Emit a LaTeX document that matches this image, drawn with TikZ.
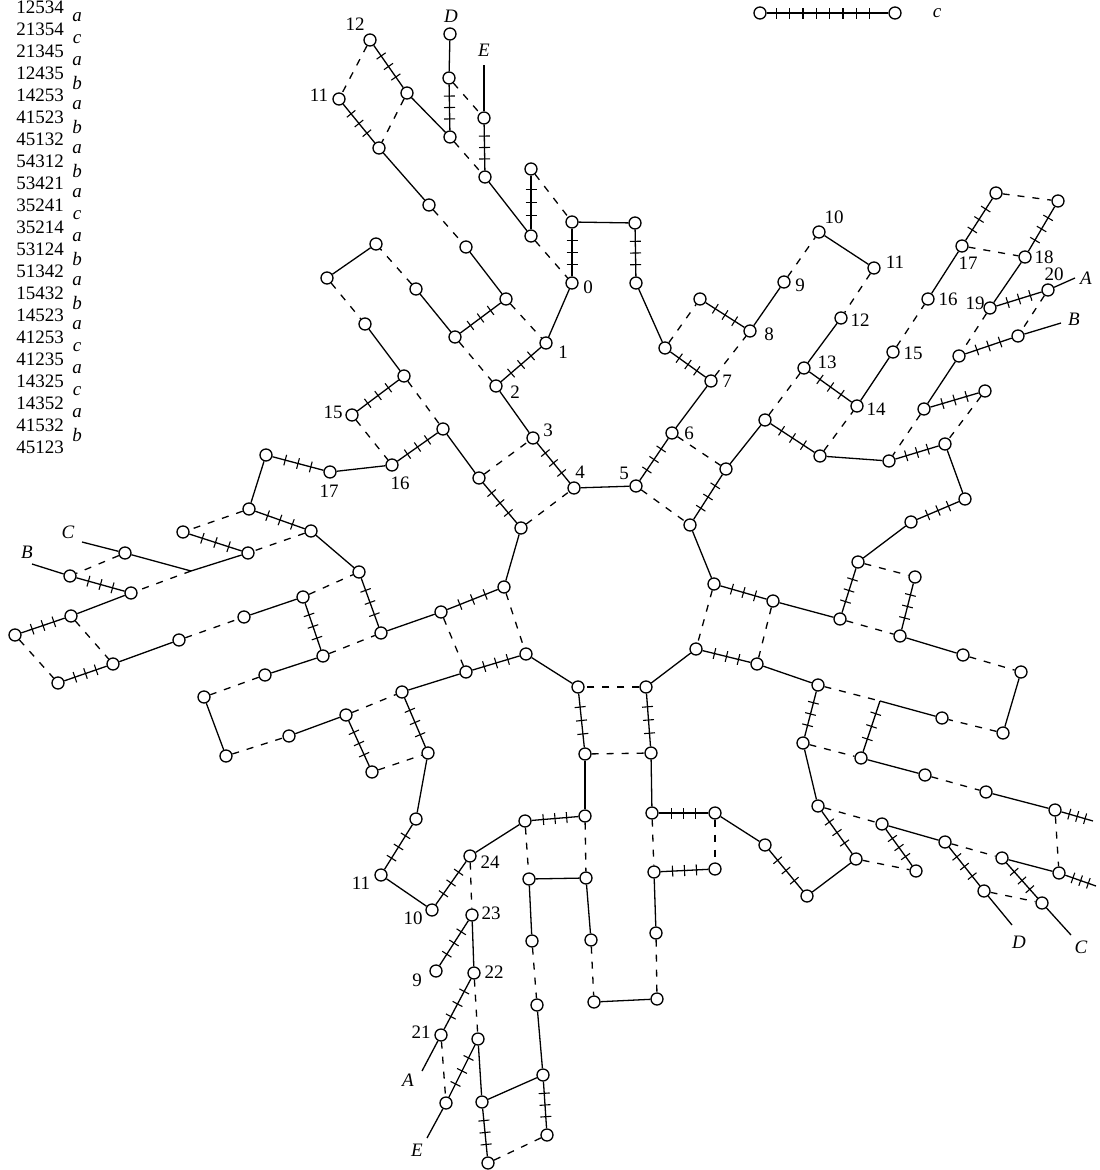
\documentclass[tikz,border=0pt]{standalone}
\usepackage{fontspec}
\setmainfont{Liberation Serif}
\usetikzlibrary{decorations.markings}
\tikzstyle{vert} = [draw, fill=white, circle, inner sep=0pt, minimum size=12pt, line width=1.3pt]
\tikzstyle{num} = [inner sep=0pt, font=\fontsize{19}{21}\selectfont]
\tikzstyle{letter} = [inner sep=0pt, font=\fontsize{19}{21}\selectfont\itshape]
\tikzstyle{solidedge} = [line width=1.3pt]
\tikzstyle{dashedge} = [line width=1.3pt, dash pattern=on 7pt off 8pt]
\tikzstyle{tickedge} = [line width=1.3pt, decoration={markings, mark=between positions 0.25 and 0.76 step 0.25 with {\draw [solid, line width=1.1pt] (0pt,-5.5pt) -- (0pt,5.5pt);}}, postaction={decorate}]
\tikzstyle{keyedge} = [line width=1.3pt, decoration={markings, mark=between positions 0.08 and 0.95 step 0.1095 with {\draw [solid, line width=1.1pt] (0pt,-5.5pt) -- (0pt,5.5pt);}}, postaction={decorate}]

\begin{document}
\begin{tikzpicture}[x=1pt, y=-1pt]
    \useasboundingbox (0,0) rectangle (1100,1170);

    % Word list
    \node [num, anchor=east] (w1) at (64,7) {12534};
    \node [num, anchor=east] (w2) at (64,29) {21354};
    \node [num, anchor=east] (w3) at (64,51) {21345};
    \node [num, anchor=east] (w4) at (64,73) {12435};
    \node [num, anchor=east] (w5) at (64,95) {14253};
    \node [num, anchor=east] (w6) at (64,117) {41523};
    \node [num, anchor=east] (w7) at (64,139) {45132};
    \node [num, anchor=east] (w8) at (64,161) {54312};
    \node [num, anchor=east] (w9) at (64,183) {53421};
    \node [num, anchor=east] (w10) at (64,205) {35241};
    \node [num, anchor=east] (w11) at (64,227) {35214};
    \node [num, anchor=east] (w12) at (64,249) {53124};
    \node [num, anchor=east] (w13) at (64,271) {51342};
    \node [num, anchor=east] (w14) at (64,293) {15432};
    \node [num, anchor=east] (w15) at (64,315) {14523};
    \node [num, anchor=east] (w16) at (64,337) {41253};
    \node [num, anchor=east] (w17) at (64,359) {41235};
    \node [num, anchor=east] (w18) at (64,381) {14325};
    \node [num, anchor=east] (w19) at (64,403) {14352};
    \node [num, anchor=east] (w20) at (64,425) {41532};
    \node [num, anchor=east] (w21) at (64,447) {45123};
    \node [letter] (s1) at (77,17) {a};
    \node [letter] (s2) at (77,39) {c};
    \node [letter] (s3) at (77,61) {a};
    \node [letter] (s4) at (77,83) {b};
    \node [letter] (s5) at (77,105) {a};
    \node [letter] (s6) at (77,127) {b};
    \node [letter] (s7) at (77,149) {a};
    \node [letter] (s8) at (77,171) {b};
    \node [letter] (s9) at (77,193) {a};
    \node [letter] (s10) at (77,215) {c};
    \node [letter] (s11) at (77,237) {a};
    \node [letter] (s12) at (77,259) {b};
    \node [letter] (s13) at (77,281) {a};
    \node [letter] (s14) at (77,303) {b};
    \node [letter] (s15) at (77,325) {a};
    \node [letter] (s16) at (77,347) {c};
    \node [letter] (s17) at (77,369) {a};
    \node [letter] (s18) at (77,391) {c};
    \node [letter] (s19) at (77,413) {a};
    \node [letter] (s20) at (77,435) {b};

    % Key
    \node [vert] (key1) at (760,13) {};
    \node [vert] (key2) at (895,13) {};
    \node [letter] (keyc) at (937,13) {c};

    % Upper left arm
    \node [vert] (a1) at (370,40) {};
    \node [vert] (a2) at (339,99) {};
    \node [vert] (a3) at (450,34) {};
    \node [vert] (a4) at (449,78) {};
    \node [vert] (a5) at (484,118) {};
    \node [vert] (a6) at (407,93) {};
    \node [vert] (a7) at (450,137) {};
    \node [vert] (a8) at (379,148) {};
    \node [vert] (a9) at (485,177) {};
    \node [vert] (a10) at (531,169) {};
    \node [vert] (a11) at (531,236) {};
    \node [vert] (a12) at (429,205) {};
    \node [vert] (a13) at (466,247) {};
    \node [vert] (a14) at (376,244) {};
    \node [vert] (a15) at (327,278) {};
    \node [vert] (a16) at (416,289) {};
    \node [vert] (a17) at (506,299) {};
    \node [vert] (a18) at (455,337) {};
    \node [vert] (a19) at (546,343) {};
    \node [vert] (a20) at (496,386) {};
    \node [vert] (a21) at (365,324) {};
    \node [vert] (a22) at (404,376) {};
    \node [vert] (a23) at (352,415) {};
    \node [vert] (a24) at (443,429) {};
    \node [vert] (a25) at (392,465) {};
    \node [vert] (a26) at (330,472) {};
    \node [vert] (a27) at (266,455) {};
    \node [vert] (a28) at (479,478) {};
    \node [vert] (a29) at (533,438) {};
    \coordinate (endE) at (484,65);

    % Upper right arm
    \node [vert] (b1) at (572,222) {};
    \node [vert] (b2) at (635,223) {};
    \node [vert] (b3) at (572,283) {};
    \node [vert] (b4) at (636,283) {};
    \node [vert] (b5) at (665,348) {};
    \node [vert] (b6) at (711,381) {};
    \node [vert] (b7) at (700,299) {};
    \node [vert] (b8) at (750,331) {};
    \node [vert] (b9) at (784,282) {};
    \node [vert] (b10) at (819,232) {};
    \node [vert] (b11) at (874,268) {};
    \node [vert] (b12) at (841,318) {};
    \node [vert] (b13) at (804,368) {};
    \node [vert] (b14) at (857,406) {};
    \node [vert] (b15) at (893,352) {};
    \node [vert] (b16) at (928,299) {};
    \node [vert] (b17) at (962,246) {};
    \node [vert] (b18) at (996,193) {};
    \node [vert] (b19) at (1058,201) {};
    \node [vert] (b20) at (1025,257) {};
    \node [vert] (b21) at (990,308) {};
    \node [vert] (b22) at (1048,290) {};
    \node [vert] (b23) at (1018,336) {};
    \node [vert] (b24) at (959,356) {};
    \node [vert] (b25) at (924,409) {};
    \node [vert] (b26) at (985,391) {};
    \node [vert] (b27) at (945,444) {};
    \node [vert] (b28) at (889,461) {};
    \node [vert] (b29) at (820,456) {};
    \node [vert] (b30) at (765,420) {};
    \node [vert] (b31) at (726,469) {};
    \node [vert] (b32) at (672,433) {};
    \node [vert] (b33) at (636,486) {};
    \node [vert] (b34) at (574,488) {};
    \coordinate (endA) at (1075,278);
    \coordinate (endB) at (1061,323);

    % Lower right arm
    \node [vert] (c1) at (690,525) {};
    \node [vert] (c2) at (714,584) {};
    \node [vert] (c3) at (773,601) {};
    \node [vert] (c4) at (840,619) {};
    \node [vert] (c5) at (858,562) {};
    \node [vert] (c6) at (915,577) {};
    \node [vert] (c7) at (900,636) {};
    \node [vert] (c8) at (963,655) {};
    \node [vert] (c9) at (1021,672) {};
    \node [vert] (c10) at (1003,733) {};
    \node [vert] (c11) at (942,718) {};
    \coordinate (c12) at (880,701);
    \node [vert] (c13) at (818,685) {};
    \node [vert] (c14) at (757,664) {};
    \node [vert] (c15) at (696,649) {};
    \node [vert] (c16) at (646,687) {};
    \node [vert] (c17) at (578,687) {};
    \node [vert] (c18) at (585,754) {};
    \node [vert] (c19) at (651,753) {};
    \node [vert] (c20) at (803,743) {};
    \node [vert] (c21) at (861,758) {};
    \node [vert] (c22) at (925,775) {};
    \node [vert] (c23) at (986,792) {};
    \node [vert] (c24) at (1055,810) {};
    \node [vert] (c25) at (1059,873) {};
    \coordinate (c26) at (1093,821);
    \coordinate (c27) at (1096,886);
    \node [vert] (c28) at (818,806) {};
    \node [vert] (c29) at (882,824) {};
    \node [vert] (c30) at (945,842) {};
    \node [vert] (c31) at (1002,858) {};
    \node [vert] (c32) at (856,859) {};
    \node [vert] (c33) at (916,871) {};
    \node [vert] (c34) at (807,896) {};
    \node [vert] (c35) at (765,845) {};
    \node [vert] (c36) at (715,813) {};
    \node [vert] (c37) at (652,813) {};
    \node [vert] (c38) at (654,872) {};
    \node [vert] (c39) at (715,869) {};
    \node [vert] (c40) at (656,933) {};
    \node [vert] (c41) at (984,891) {};
    \node [vert] (c42) at (1042,903) {};
    \node [vert] (c45) at (965,499) {};
    \node [vert] (c46) at (911,522) {};
    \coordinate (endD) at (1012,925);
    \coordinate (endC) at (1071,935);

    % Lower arm
    \node [vert] (d1) at (585,816) {};
    \node [vert] (d2) at (525,821) {};
    \node [vert] (d3) at (529,879) {};
    \node [vert] (d4) at (586,878) {};
    \node [vert] (d5) at (532,941) {};
    \node [vert] (d6) at (591,940) {};
    \node [vert] (d7) at (594,1002) {};
    \node [vert] (d8) at (657,999) {};
    \node [vert] (d9) at (537,1005) {};
    \node [vert] (d10) at (543,1075) {};
    \node [vert] (d11) at (547,1135) {};
    \node [vert] (d12) at (488,1163) {};
    \node [vert] (d13) at (482,1102) {};
    \node [vert] (d14) at (478,1039) {};
    \node [vert] (d15) at (446,1103) {};
    \node [vert] (d16) at (441,1035) {};
    \node [vert] (d17) at (474,973) {};
    \node [vert] (d18) at (472,915) {};
    \node [vert] (d19) at (436,971) {};
    \node [vert] (d20) at (470,856) {};
    \node [vert] (d21) at (432,910) {};
    \node [vert] (d22) at (381,875) {};
    \node [vert] (d23) at (416,819) {};
    \coordinate (endEb) at (427,1138);
    \coordinate (endAb) at (422,1071);

    % Left arm
    \node [vert] (e1) at (521,528) {};
    \node [vert] (e2) at (504,587) {};
    \node [vert] (e3) at (441,612) {};
    \node [vert] (e4) at (381,633) {};
    \node [vert] (e5) at (359,572) {};
    \node [vert] (e6) at (311,531) {};
    \node [vert] (e7) at (249,509) {};
    \node [vert] (e8) at (183,532) {};
    \node [vert] (e9) at (248,553) {};
    \node [vert] (e10) at (125,553) {};
    \node [vert] (e11) at (70,576) {};
    \node [vert] (e12) at (131,593) {};
    \coordinate (e13) at (191,571);
    \node [vert] (e14) at (71,616) {};
    \node [vert] (e15) at (15,635) {};
    \node [vert] (e16) at (58,683) {};
    \node [vert] (e17) at (113,664) {};
    \node [vert] (e18) at (179,640) {};
    \node [vert] (e19) at (244,617) {};
    \node [vert] (e20) at (303,597) {};
    \node [vert] (e21) at (323,656) {};
    \node [vert] (e22) at (265,675) {};
    \node [vert] (e23) at (204,697) {};
    \node [vert] (e24) at (226,756) {};
    \node [vert] (e25) at (289,736) {};
    \node [vert] (e26) at (346,715) {};
    \node [vert] (e27) at (402,692) {};
    \node [vert] (e28) at (466,672) {};
    \node [vert] (e29) at (526,654) {};
    \node [vert] (e30) at (428,753) {};
    \node [vert] (e31) at (372,772) {};
    \coordinate (endCb) at (82,542);
    \coordinate (endBb) at (32,564);

    % Labels
    \node [num] (la12) at (355,24) {12};
    \node [num] (la11) at (319,95) {11};
    \node [letter] (laD) at (451,16) {D};
    \node [letter] (laE) at (484,50) {E};
    \node [num] (la0) at (588,287) {0};
    \node [num] (la1) at (563,352) {1};
    \node [num] (la2) at (515,392) {2};
    \node [num] (la3) at (548,430) {3};
    \node [num] (la4) at (580,472) {4};
    \node [num] (la15) at (333,412) {15};
    \node [num] (la16) at (400,483) {16};
    \node [num] (la17) at (329,491) {17};
    \node [num] (lb5) at (624,473) {5};
    \node [num] (lb6) at (689,433) {6};
    \node [num] (lb7) at (727,381) {7};
    \node [num] (lb8) at (769,334) {8};
    \node [num] (lb9) at (800,285) {9};
    \node [num] (lb10) at (834,217) {10};
    \node [num] (lb11) at (895,262) {11};
    \node [num] (lb12) at (860,320) {12};
    \node [num] (lb13) at (827,362) {13};
    \node [num] (lb14) at (876,409) {14};
    \node [num] (lb15) at (913,353) {15};
    \node [num] (lb16) at (948,299) {16};
    \node [num] (lb17) at (968,263) {17};
    \node [num] (lb18) at (1044,257) {18};
    \node [num] (lb19) at (975,303) {19};
    \node [num] (lb20) at (1054,274) {20};
    \node [letter] (lbA) at (1086,278) {A};
    \node [letter] (lbB) at (1074,319) {B};
    \node [letter] (lcD) at (1019,942) {D};
    \node [letter] (lcC) at (1081,947) {C};
    \node [num] (ld11) at (361,883) {11};
    \node [num] (ld10) at (413,918) {10};
    \node [num] (ld24) at (490,862) {24};
    \node [num] (ld23) at (491,913) {23};
    \node [num] (ld22) at (494,972) {22};
    \node [num] (ld9) at (417,980) {9};
    \node [num] (ld21) at (421,1032) {21};
    \node [letter] (ldA) at (408,1080) {A};
    \node [letter] (ldE) at (417,1150) {E};
    \node [letter] (leC) at (68,532) {C};
    \node [letter] (leB) at (27,552) {B};

    % Connections
    \draw [keyedge] (key1) -- (key2);

    \draw [tickedge] (a1) -- (a6);
    \draw [dashedge] (a1) -- (a2);
    \draw [dashedge] (a6) -- (a8);
    \draw [tickedge] (a2) -- (a8);
    \draw [solidedge] (a3) -- (a4);
    \draw [tickedge] (a4) -- (a7);
    \draw [dashedge] (a4) -- (a5);
    \draw [solidedge] (endE) -- (a5);
    \draw [tickedge] (a5) -- (a9);
    \draw [solidedge] (a6) -- (a7);
    \draw [dashedge] (a7) -- (a9);
    \draw [solidedge] (a9) -- (a11);
    \draw [tickedge] (a10) -- (a11);
    \draw [dashedge] (a10) -- (b1);
    \draw [dashedge] (a11) -- (b3);
    \draw [solidedge] (a8) -- (a12);
    \draw [dashedge] (a12) -- (a13);
    \draw [solidedge] (a13) -- (a17);
    \draw [tickedge] (a17) -- (a18);
    \draw [dashedge] (a17) -- (a19);
    \draw [solidedge] (a18) -- (a16);
    \draw [dashedge] (a16) -- (a14);
    \draw [solidedge] (a14) -- (a15);
    \draw [dashedge] (a15) -- (a21);
    \draw [solidedge] (a21) -- (a22);
    \draw [tickedge] (a22) -- (a23);
    \draw [dashedge] (a22) -- (a24);
    \draw [dashedge] (a23) -- (a25);
    \draw [tickedge] (a25) -- (a24);
    \draw [solidedge] (a25) -- (a26);
    \draw [tickedge] (a26) -- (a27);
    \draw [solidedge] (a24) -- (a28);
    \draw [dashedge] (a28) -- (a29);
    \draw [dashedge] (a18) -- (a20);
    \draw [tickedge] (a19) -- (a20);
    \draw [solidedge] (a20) -- (a29);
    \draw [tickedge] (a29) -- (b34);
    \draw [tickedge] (a28) -- (e1);
    \draw [solidedge] (a19) -- (b3);

    \draw [solidedge] (b1) -- (b2);
    \draw [tickedge] (b1) -- (b3);
    \draw [tickedge] (b2) -- (b4);
    \draw [solidedge] (b4) -- (b5);
    \draw [tickedge] (b5) -- (b6);
    \draw [dashedge] (b5) -- (b7);
    \draw [tickedge] (b7) -- (b8);
    \draw [dashedge] (b6) -- (b8);
    \draw [solidedge] (b8) -- (b9);
    \draw [dashedge] (b9) -- (b10);
    \draw [solidedge] (b10) -- (b11);
    \draw [dashedge] (b11) -- (b12);
    \draw [solidedge] (b12) -- (b13);
    \draw [tickedge] (b13) -- (b14);
    \draw [solidedge] (b14) -- (b15);
    \draw [dashedge] (b15) -- (b16);
    \draw [solidedge] (b16) -- (b17);
    \draw [tickedge] (b17) -- (b18);
    \draw [dashedge] (b18) -- (b19);
    \draw [tickedge] (b19) -- (b20);
    \draw [dashedge] (b17) -- (b20);
    \draw [solidedge] (b20) -- (b21);
    \draw [tickedge] (b21) -- (b22);
    \draw [solidedge] (b22) -- (endA);
    \draw [dashedge] (b21) -- (b24);
    \draw [dashedge] (b22) -- (b23);
    \draw [tickedge] (b24) -- (b23);
    \draw [solidedge] (b23) -- (endB);
    \draw [solidedge] (b24) -- (b25);
    \draw [tickedge] (b25) -- (b26);
    \draw [dashedge] (b25) -- (b28);
    \draw [dashedge] (b26) -- (b27);
    \draw [tickedge] (b28) -- (b27);
    \draw [solidedge] (b29) -- (b28);
    \draw [tickedge] (b30) -- (b29);
    \draw [dashedge] (b29) -- (b14);
    \draw [dashedge] (b30) -- (b13);
    \draw [solidedge] (b30) -- (b31);
    \draw [dashedge] (b32) -- (b31);
    \draw [solidedge] (b32) -- (b6);
    \draw [tickedge] (b33) -- (b32);
    \draw [solidedge] (b34) -- (b33);
    \draw [dashedge] (b33) -- (c1);
    \draw [tickedge] (c1) -- (b31);
    \draw [solidedge] (b27) -- (c45);
    \draw [tickedge] (c46) -- (c45);
    \draw [solidedge] (c46) -- (c5);

    \draw [solidedge] (c1) -- (c2);
    \draw [tickedge] (c2) -- (c3);
    \draw [solidedge] (c3) -- (c4);
    \draw [tickedge] (c5) -- (c4);
    \draw [dashedge] (c5) -- (c6);
    \draw [tickedge] (c6) -- (c7);
    \draw [dashedge] (c4) -- (c7);
    \draw [solidedge] (c7) -- (c8);
    \draw [dashedge] (c8) -- (c9);
    \draw [solidedge] (c9) -- (c10);
    \draw [dashedge] (c10) -- (c11);
    \draw [solidedge] (c12) -- (c11);
    \draw [dashedge] (c13) -- (c12);
    \draw [tickedge] (c21) -- (c12);
    \draw [solidedge] (c14) -- (c13);
    \draw [tickedge] (c15) -- (c14);
    \draw [dashedge] (c2) -- (c15);
    \draw [dashedge] (c3) -- (c14);
    \draw [solidedge] (c15) -- (c16);
    \draw [dashedge] (c16) -- (c17);
    \draw [tickedge] (c17) -- (c18);
    \draw [tickedge] (c16) -- (c19);
    \draw [dashedge] (c18) -- (c19);
    \draw [tickedge] (c13) -- (c20);
    \draw [dashedge] (c20) -- (c21);
    \draw [solidedge] (c21) -- (c22);
    \draw [dashedge] (c22) -- (c23);
    \draw [solidedge] (c23) -- (c24);
    \draw [tickedge] (c24) -- (c26);
    \draw [dashedge] (c24) -- (c25);
    \draw [tickedge] (c25) -- (c27);
    \draw [solidedge] (c20) -- (c28);
    \draw [tickedge] (c28) -- (c32);
    \draw [dashedge] (c28) -- (c29);
    \draw [tickedge] (c29) -- (c33);
    \draw [dashedge] (c32) -- (c33);
    \draw [solidedge] (c34) -- (c32);
    \draw [tickedge] (c35) -- (c34);
    \draw [solidedge] (c36) -- (c35);
    \draw [tickedge] (c37) -- (c36);
    \draw [dashedge] (c37) -- (c38);
    \draw [dashedge] (c36) -- (c39);
    \draw [tickedge] (c38) -- (c39);
    \draw [solidedge] (c38) -- (c40);
    \draw [solidedge] (c19) -- (c37);
    \draw [solidedge] (c29) -- (c30);
    \draw [tickedge] (c30) -- (c41);
    \draw [solidedge] (c41) -- (endD);
    \draw [dashedge] (c41) -- (c42);
    \draw [dashedge] (c30) -- (c31);
    \draw [tickedge] (c31) -- (c42);
    \draw [solidedge] (c42) -- (endC);
    \draw [solidedge] (c31) -- (c25);

    \draw [solidedge] (c18) -- (d1);
    \draw [tickedge] (d2) -- (d1);
    \draw [dashedge] (d2) -- (d3);
    \draw [dashedge] (d1) -- (d4);
    \draw [solidedge] (d3) -- (d4);
    \draw [solidedge] (d3) -- (d5);
    \draw [solidedge] (d4) -- (d6);
    \draw [dashedge] (d5) -- (d9);
    \draw [dashedge] (d6) -- (d7);
    \draw [solidedge] (d7) -- (d8);
    \draw [dashedge] (c40) -- (d8);
    \draw [solidedge] (d9) -- (d10);
    \draw [tickedge] (d10) -- (d11);
    \draw [dashedge] (d11) -- (d12);
    \draw [tickedge] (d13) -- (d12);
    \draw [solidedge] (d13) -- (d10);
    \draw [solidedge] (d14) -- (d13);
    \draw [tickedge] (d14) -- (d15);
    \draw [solidedge] (d15) -- (endEb);
    \draw [dashedge] (d16) -- (d15);
    \draw [dashedge] (d17) -- (d14);
    \draw [tickedge] (d17) -- (d16);
    \draw [solidedge] (d16) -- (endAb);
    \draw [solidedge] (d18) -- (d17);
    \draw [tickedge] (d18) -- (d19);
    \draw [dashedge] (d20) -- (d18);
    \draw [solidedge] (d20) -- (d2);
    \draw [tickedge] (d20) -- (d21);
    \draw [solidedge] (d22) -- (d21);
    \draw [tickedge] (d23) -- (d22);
    \draw [solidedge] (e30) -- (d23);

    \draw [dashedge] (e1) -- (b34);
    \draw [solidedge] (e1) -- (e2);
    \draw [tickedge] (e2) -- (e3);
    \draw [solidedge] (e3) -- (e4);
    \draw [tickedge] (e5) -- (e4);
    \draw [solidedge] (e6) -- (e5);
    \draw [tickedge] (e7) -- (e6);
    \draw [solidedge] (a27) -- (e7);
    \draw [dashedge] (e7) -- (e8);
    \draw [tickedge] (e8) -- (e9);
    \draw [dashedge] (e6) -- (e9);
    \draw [solidedge] (e9) -- (e13);
    \draw [solidedge] (e13) -- (e10);
    \draw [solidedge] (e10) -- (endCb);
    \draw [dashedge] (e10) -- (e11);
    \draw [solidedge] (e11) -- (endBb);
    \draw [tickedge] (e11) -- (e12);
    \draw [dashedge] (e13) -- (e12);
    \draw [solidedge] (e12) -- (e14);
    \draw [tickedge] (e14) -- (e15);
    \draw [dashedge] (e15) -- (e16);
    \draw [dashedge] (e14) -- (e17);
    \draw [tickedge] (e16) -- (e17);
    \draw [solidedge] (e17) -- (e18);
    \draw [dashedge] (e18) -- (e19);
    \draw [solidedge] (e19) -- (e20);
    \draw [dashedge] (e20) -- (e5);
    \draw [tickedge] (e20) -- (e21);
    \draw [dashedge] (e21) -- (e4);
    \draw [solidedge] (e21) -- (e22);
    \draw [dashedge] (e22) -- (e23);
    \draw [solidedge] (e23) -- (e24);
    \draw [dashedge] (e24) -- (e25);
    \draw [solidedge] (e25) -- (e26);
    \draw [dashedge] (e26) -- (e27);
    \draw [solidedge] (e27) -- (e28);
    \draw [tickedge] (e28) -- (e29);
    \draw [dashedge] (e3) -- (e28);
    \draw [dashedge] (e2) -- (e29);
    \draw [solidedge] (e29) -- (c17);
    \draw [tickedge] (e27) -- (e30);
    \draw [tickedge] (e26) -- (e31);
    \draw [dashedge] (e31) -- (e30);
\end{tikzpicture}
\end{document}
